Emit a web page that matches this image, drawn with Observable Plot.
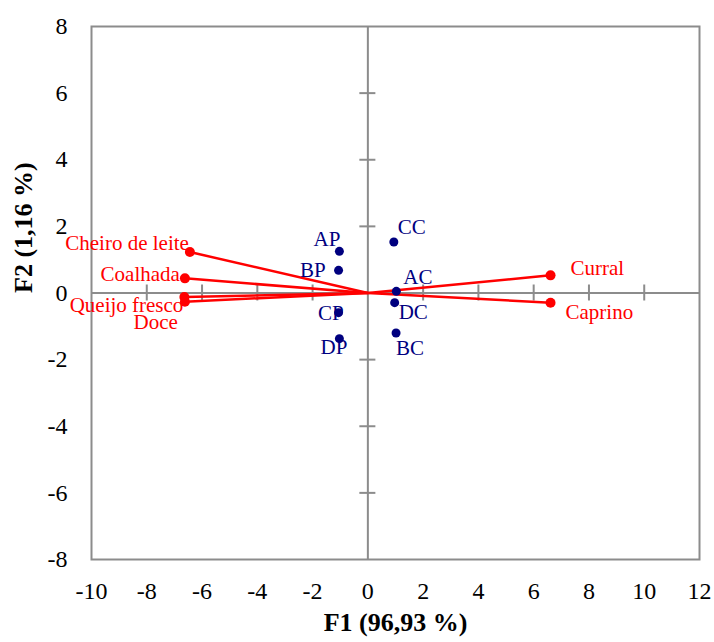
<!DOCTYPE html>
<html>
<head>
<meta charset="utf-8">
<script src="https://cdn.jsdelivr.net/npm/d3@7"></script>
<script src="https://cdn.jsdelivr.net/npm/@observablehq/plot@0.6"></script>
<style>
  html, body { margin: 0; padding: 0; background: #fff; }
  #chart svg { display: block; font-family: 'Liberation Serif', 'Times New Roman', serif !important; background: #fff; }
  #chart svg g[aria-label="x-axis tick label"],
  #chart svg g[aria-label="y-axis tick label"] { font-size: 24px !important; font-family: 'Liberation Serif', 'Times New Roman', serif !important; fill: #000; }
</style>
</head>
<body>
<div id="chart"></div>
<script>
// Observations (blue points)
const obsNames = ["AP", "BP", "CP", "DP", "CC", "AC", "DC", "BC"];
const obsF1 = [-1.03, -1.06, -1.06, -1.03, 0.94, 1.03, 0.97, 1.02];
const obsF2 = [1.25, 0.68, -0.59, -1.37, 1.53, 0.05, -0.29, -1.20];

// Variables (red vectors)
const varNames = ["Cheiro de leite", "Coalhada", "Queijo fresco", "Doce", "Curral", "Caprino"];
const varF1 = [-6.44, -6.62, -6.64, -6.62, 6.61, 6.61];
const varF2 = [1.23, 0.44, -0.12, -0.26, 0.53, -0.29];

// Axis ticks
const xTicks = [-10, -8, -6, -4, -2, 0, 2, 4, 6, 8, 10, 12];
const yTicks = [-8, -6, -4, -2, 0, 2, 4, 6, 8];
const xTitle = "F1 (96,93 %)";
const yTitle = "F2 (1,16 %)";

// Label placement (pixel offsets, style only)
const obsLabelPlace = [
  {dx: 1, dy: -12, anchor: "end"},
  {dx: -13, dy: 0, anchor: "end"},
  {dx: 5, dy: 1, anchor: "end"},
  {dx: 8, dy: 9, anchor: "end"},
  {dx: 4, dy: -15, anchor: "start"},
  {dx: 7, dy: -14, anchor: "start"},
  {dx: 4, dy: 10, anchor: "start"},
  {dx: 0, dy: 15, anchor: "start"}
];
const varLabelPlace = [
  {dx: -1, dy: -9, anchor: "end"},
  {dx: -5, dy: -4, anchor: "end"},
  {dx: -1, dy: 8, anchor: "end"},
  {dx: -7, dy: 21, anchor: "end"},
  {dx: 20, dy: -7, anchor: "start"},
  {dx: 15, dy: 10, anchor: "start"}
];

const obs = obsNames.map((n, i) => ({name: n, x: obsF1[i], y: obsF2[i]}));
const vars = varNames.map((n, i) => ({name: n, x: varF1[i], y: varF2[i]}));

const GRAY = "#8c8c8c";
const NAVY = "#00007f";
const RED = "#ff0000";
const FONT = "'Liberation Serif', 'Times New Roman', serif";

const labelMarks = [];
obs.forEach((d, i) => {
  const p = obsLabelPlace[i];
  labelMarks.push(Plot.text([d], {x: "x", y: "y", text: "name", dx: p.dx, dy: p.dy,
    textAnchor: p.anchor, fill: NAVY, fontSize: 21, fontFamily: FONT}));
});
vars.forEach((d, i) => {
  const p = varLabelPlace[i];
  labelMarks.push(Plot.text([d], {x: "x", y: "y", text: "name", dx: p.dx, dy: p.dy,
    textAnchor: p.anchor, fill: RED, fontSize: 21, fontFamily: FONT}));
});

const xTickHalf = 0.29; // tick half-length in x units on the horizontal zero line
const yTickHalf = 0.24;
const fmt = d => String(d); // plain hyphen-minus like the reference

const chart = Plot.plot({
  width: 714,
  height: 642,
  marginLeft: 91,
  marginRight: 15,
  marginTop: 26,
  marginBottom: 83,
  x: {domain: [-10, 12], ticks: xTicks, tickFormat: fmt, tickSize: 0, tickPadding: 22, label: null},
  y: {domain: [-8, 8], ticks: yTicks, tickFormat: fmt, tickSize: 0, tickPadding: 24, label: null},
  marks: [
    Plot.frame({stroke: GRAY, strokeWidth: 2}),
    Plot.ruleX([0], {stroke: GRAY, strokeWidth: 2}),
    Plot.ruleY([0], {stroke: GRAY, strokeWidth: 2}),
    Plot.ruleX(xTicks.filter(t => t !== 0 && t !== -10 && t !== 12), {x: d => d, y1: -yTickHalf, y2: yTickHalf, stroke: GRAY, strokeWidth: 2}),
    Plot.ruleY(yTicks.filter(t => t !== 0 && t !== -8 && t !== 8), {y: d => d, x1: -xTickHalf, x2: xTickHalf, stroke: GRAY, strokeWidth: 2}),
    Plot.link(vars, {x1: 0, y1: 0, x2: "x", y2: "y", stroke: RED, strokeWidth: 2.5}),
    Plot.dot(vars, {x: "x", y: "y", r: 5, fill: RED, stroke: "none"}),
    Plot.dot(obs, {x: "x", y: "y", r: 4.5, fill: NAVY, stroke: "none"}),
    ...labelMarks,
    Plot.text([xTitle], {text: d => d, frameAnchor: "bottom", dy: 71, fontWeight: "bold", fontSize: 26, fontFamily: FONT, fill: "#000"}),
    Plot.text([yTitle], {text: d => d, frameAnchor: "left", dx: -68, rotate: -90, fontWeight: "bold", fontSize: 26, fontFamily: FONT, fill: "#000"})
  ]
});
document.getElementById("chart").appendChild(chart);
</script>
</body>
</html>
